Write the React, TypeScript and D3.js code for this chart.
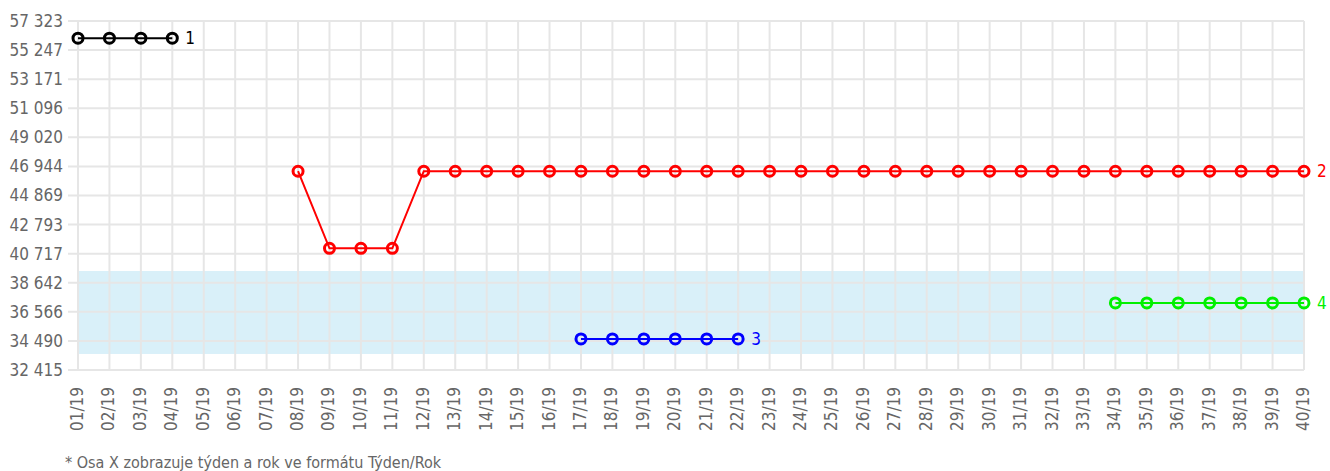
import React, { useRef, useEffect } from 'react';
import * as d3 from 'd3';

const weeks = [
  '01/19', '02/19', '03/19', '04/19', '05/19', '06/19', '07/19', '08/19', '09/19', '10/19',
  '11/19', '12/19', '13/19', '14/19', '15/19', '16/19', '17/19', '18/19', '19/19', '20/19',
  '21/19', '22/19', '23/19', '24/19', '25/19', '26/19', '27/19', '28/19', '29/19', '30/19',
  '31/19', '32/19', '33/19', '34/19', '35/19', '36/19', '37/19', '38/19', '39/19', '40/19',
];

const yTicks = [32415, 34490, 36566, 38642, 40717, 42793, 44869, 46944, 49020, 51096, 53171, 55247, 57323];

// series: weeks covered + values
const s1Weeks = ['01/19', '02/19', '03/19', '04/19'];
const s1Values = [56100, 56100, 56100, 56100];

const s2Weeks = [
  '08/19', '09/19', '10/19', '11/19', '12/19', '13/19', '14/19', '15/19', '16/19', '17/19',
  '18/19', '19/19', '20/19', '21/19', '22/19', '23/19', '24/19', '25/19', '26/19', '27/19',
  '28/19', '29/19', '30/19', '31/19', '32/19', '33/19', '34/19', '35/19', '36/19', '37/19',
  '38/19', '39/19', '40/19',
];
const s2Values = [
  46600, 41100, 41100, 41100, 46600, 46600, 46600, 46600, 46600, 46600,
  46600, 46600, 46600, 46600, 46600, 46600, 46600, 46600, 46600, 46600,
  46600, 46600, 46600, 46600, 46600, 46600, 46600, 46600, 46600, 46600,
  46600, 46600, 46600,
];

const s3Weeks = ['17/19', '18/19', '19/19', '20/19', '21/19', '22/19'];
const s3Values = [34630, 34630, 34630, 34630, 34630, 34630];

const s4Weeks = ['34/19', '35/19', '36/19', '37/19', '38/19', '39/19', '40/19'];
const s4Values = [37200, 37200, 37200, 37200, 37200, 37200, 37200];

const seriesNames = ['1', '2', '3', '4'];
const seriesColors = ['#000000', '#ff0000', '#0000ff', '#00f000'];

// shaded band
const bandRange = [33560, 39480];

const FONT = '"DejaVu Sans Condensed", "DejaVu Sans", sans-serif';

const App = () => {
  const svgRef = useRef<SVGSVGElement>(null);

  useEffect(() => {
    const W = 1330, H = 471;
    const left = 78, right = 1304, top = 21, bottom = 370;
    const svg = d3.select(svgRef.current);
    svg.selectAll('*').remove();
    svg.attr('width', W).attr('height', H).style('background', '#ffffff');

    const x = d3.scalePoint<string>().domain(weeks).range([left, right]);
    const y = d3.scaleLinear().domain([yTicks[0], yTicks[yTicks.length - 1]]).range([bottom, top]);

    // band
    svg.append('rect')
      .attr('x', left)
      .attr('width', right - left)
      .attr('y', y(bandRange[1]))
      .attr('height', y(bandRange[0]) - y(bandRange[1]))
      .attr('fill', '#d9f0f9');

    // grid
    const grid = svg.append('g').attr('stroke', '#e6e6e6').attr('stroke-width', 2);
    grid.selectAll('.vg').data(weeks).enter().append('line')
      .attr('x1', d => x(d)!).attr('x2', d => x(d)!)
      .attr('y1', top).attr('y2', bottom);
    grid.selectAll('.hg').data(yTicks).enter().append('line')
      .attr('x1', left - 10).attr('x2', right)
      .attr('y1', d => y(d)).attr('y2', d => y(d));

    // y labels
    svg.append('g').selectAll('text').data(yTicks).enter().append('text')
      .attr('x', left - 15)
      .attr('y', d => y(d))
      .attr('dy', '0.35em')
      .attr('text-anchor', 'end')
      .attr('fill', '#666')
      .style('font-family', FONT)
      .style('font-size', '17px')
      .text(d => d3.format(',')(d).replace(',', ' '));

    // x labels
    svg.append('g').selectAll('text').data(weeks).enter().append('text')
      .attr('transform', d => `translate(${x(d)! + 5},${bottom + 17}) rotate(-90)`)
      .attr('text-anchor', 'end')
      .attr('fill', '#666')
      .style('font-family', FONT)
      .style('font-size', '17px')
      .text(d => d);

    // series
    const series = [
      { w: s1Weeks, v: s1Values },
      { w: s2Weeks, v: s2Values },
      { w: s3Weeks, v: s3Values },
      { w: s4Weeks, v: s4Values },
    ];
    const line = d3.line<[string, number]>().x(d => x(d[0])!).y(d => y(d[1]));

    series.forEach((s, i) => {
      const pts: [string, number][] = s.w.map((w, j) => [w, s.v[j]]);
      const g = svg.append('g');
      g.append('path')
        .datum(pts)
        .attr('fill', 'none')
        .attr('stroke', seriesColors[i])
        .attr('stroke-width', 2)
        .attr('d', line);
      g.selectAll('circle').data(pts).enter().append('circle')
        .attr('cx', d => x(d[0])!)
        .attr('cy', d => y(d[1]))
        .attr('r', 5)
        .attr('fill', 'none')
        .attr('stroke', seriesColors[i])
        .attr('stroke-width', 3);
      const last = pts[pts.length - 1];
      g.append('text')
        .attr('x', x(last[0])! + 13)
        .attr('y', y(last[1]))
        .attr('dy', '0.35em')
        .attr('fill', seriesColors[i])
        .style('font-family', FONT)
        .style('font-size', '17px')
        .text(seriesNames[i]);
    });

    // footnote
    svg.append('text')
      .attr('x', 65)
      .attr('y', 468)
      .attr('fill', '#666')
      .style('font-family', FONT)
      .style('font-size', '16px')
      .text('* Osa X zobrazuje týden a rok ve formátu Týden/Rok');
  }, []);

  return <svg ref={svgRef} style={{ position: 'absolute', left: 0, top: 0 }}></svg>;
};

export default App;
